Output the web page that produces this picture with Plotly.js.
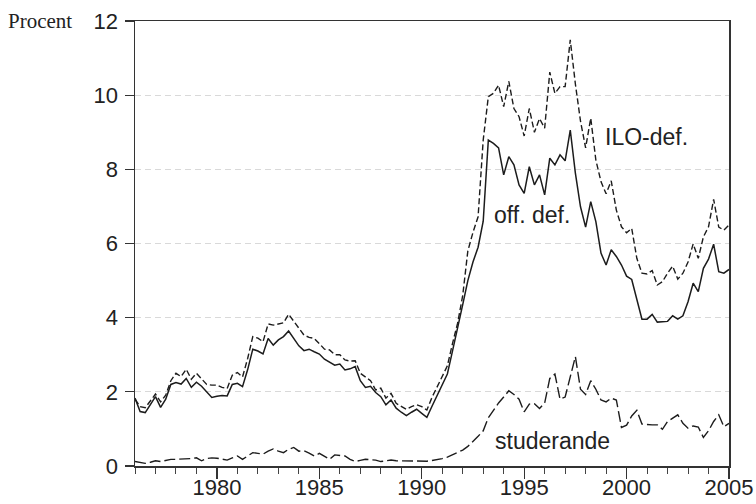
<!DOCTYPE html>
<html>
<head>
<meta charset="utf-8">
<script src="https://cdn.plot.ly/plotly-3.0.1.min.js"></script>
<style>html,body{margin:0;padding:0;background:#fff;}#chart{width:756px;height:504px;}</style>
</head>
<body>
<div id="chart"></div>
<script>
// Quarterly series, 1976Q1 .. 2005Q1
var startYear = 1976;
var offDef = [
  1.83, 1.47, 1.44, 1.65,
  1.87, 1.58, 1.80, 2.20,
  2.25, 2.21, 2.36, 2.12,
  2.26, 2.15, 2.00, 1.85,
  1.88, 1.90, 1.89, 2.20,
  2.23, 2.14, 2.60, 3.15,
  3.10, 3.02, 3.44, 3.26,
  3.40, 3.49, 3.64, 3.45,
  3.24, 3.11, 3.15, 3.08,
  3.02, 2.88, 2.80, 2.72,
  2.75, 2.59, 2.62, 2.68,
  2.30, 2.12, 2.15, 1.98,
  1.87, 1.65, 1.78, 1.56,
  1.45, 1.36, 1.45, 1.53,
  1.42, 1.31, 1.61, 1.90,
  2.19, 2.48, 3.10, 3.70,
  4.35, 5.00, 5.50, 5.90,
  6.60, 8.79, 8.70, 8.58,
  7.85, 8.34, 8.12, 7.58,
  7.35, 8.07, 7.58, 7.85,
  7.31, 8.30, 8.12, 8.39,
  8.23, 9.06, 7.90, 6.99,
  6.44, 7.13, 6.59, 5.74,
  5.42, 5.83, 5.65, 5.42,
  5.12, 5.03, 4.48, 3.96,
  3.96, 4.09, 3.88, 3.88,
  3.90, 4.05, 3.96, 4.05,
  4.43, 4.93, 4.70, 5.33,
  5.58, 5.98, 5.24, 5.20,
  5.30
];
var iloDef = [
  1.80, 1.60, 1.57, 1.75,
  1.94, 1.73, 1.91, 2.30,
  2.50, 2.41, 2.61, 2.34,
  2.50, 2.35, 2.20, 2.18,
  2.18, 2.12, 2.09, 2.45,
  2.52, 2.40, 2.90, 3.49,
  3.45, 3.35, 3.83, 3.80,
  3.83, 3.86, 4.09, 3.90,
  3.71, 3.53, 3.47, 3.44,
  3.30, 3.15, 3.13, 3.00,
  3.00, 2.86, 2.83, 2.84,
  2.50, 2.40, 2.30, 2.05,
  2.10, 1.83, 1.96, 1.69,
  1.60, 1.53, 1.60, 1.65,
  1.60, 1.51, 1.85, 2.14,
  2.45, 2.70, 3.30, 3.85,
  4.60, 5.80, 6.30, 6.72,
  8.79, 9.96, 10.05, 10.27,
  9.69, 10.37, 9.64, 9.42,
  8.90, 9.64, 9.00, 9.37,
  9.11, 10.62, 10.05, 10.23,
  10.23, 11.49, 10.30, 9.30,
  8.58, 9.38, 8.25, 7.67,
  7.34, 7.69, 6.90, 6.45,
  6.29, 6.41, 5.60, 5.20,
  5.18, 5.27, 4.88, 4.97,
  5.20, 5.39, 5.04, 5.20,
  5.50, 5.99, 5.60, 6.18,
  6.45, 7.19, 6.44, 6.36,
  6.50
];
var studerande = [
  0.12, 0.10, 0.07, 0.10,
  0.14, 0.12, 0.15, 0.18,
  0.18, 0.18, 0.19, 0.20,
  0.22, 0.14, 0.20, 0.22,
  0.21, 0.19, 0.16, 0.22,
  0.27, 0.18, 0.28, 0.36,
  0.34, 0.32, 0.40, 0.46,
  0.40, 0.36, 0.45, 0.50,
  0.40, 0.41, 0.35, 0.27,
  0.34, 0.25, 0.18, 0.30,
  0.28, 0.27, 0.18, 0.12,
  0.15, 0.18, 0.17, 0.16,
  0.12, 0.15, 0.16, 0.14,
  0.14, 0.12, 0.13, 0.14,
  0.12, 0.13, 0.15, 0.17,
  0.20, 0.24, 0.30, 0.36,
  0.43, 0.53, 0.66, 0.80,
  0.95, 1.30, 1.50, 1.70,
  1.86, 2.03, 1.93, 1.80,
  1.46, 1.67, 1.68, 1.55,
  1.70, 2.36, 2.48, 1.80,
  1.86, 2.40, 2.95, 2.07,
  1.93, 2.30, 2.07, 1.78,
  1.73, 1.83, 1.78, 1.04,
  1.10, 1.35, 1.50, 1.13,
  1.11, 1.11, 1.11, 0.99,
  1.20, 1.30, 1.38, 1.15,
  1.02, 1.08, 1.05, 0.77,
  0.95, 1.20, 1.38, 1.06,
  1.15
];
var seriesNames = ["off. def.", "ILO-def.", "studerande"];
var yTicks = [0, 2, 4, 6, 8, 10, 12];
var xTicks = [1980, 1985, 1990, 1995, 2000, 2005];

var t = offDef.map(function (_, i) { return startYear + i / 4; });
var lineColor = "#1c1c1c";

var traces = [
  {x: t, y: offDef, name: seriesNames[0], mode: "lines", line: {color: lineColor, width: 1.5}},
  {x: t, y: iloDef, name: seriesNames[1], mode: "lines", line: {color: lineColor, width: 1.4, dash: "6px,3px"}},
  {x: t, y: studerande, name: seriesNames[2], mode: "lines", line: {color: lineColor, width: 1.4, dash: "11px,4px"}}
];

var font = "Liberation Sans, Arial, sans-serif";
var layout = {
  width: 756, height: 504,
  margin: {l: 135, r: 27, t: 21, b: 38, pad: 0},
  paper_bgcolor: "#fff", plot_bgcolor: "#fff",
  showlegend: false,
  font: {family: font, size: 22, color: "#222"},
  xaxis: {
    range: [1976, 2005], tickmode: "array", tickvals: xTicks, ticktext: xTicks.map(String),
    ticks: "outside", ticklen: 11, tickwidth: 1.3, tickcolor: "#333",
    minor: {tickmode: "linear", tick0: 1976, dtick: 1, ticks: "outside", ticklen: 6, tickwidth: 1, tickcolor: "#444"},
    showline: true, linecolor: "#333", linewidth: 1.5, mirror: true,
    showgrid: false, zeroline: false, ticklabelstandoff: -10,
    tickfont: {family: font, size: 22, color: "#222"}
  },
  yaxis: {
    range: [0, 12], tickmode: "array", tickvals: yTicks, ticktext: yTicks.map(String),
    ticks: "outside", ticklen: 9, tickwidth: 1.3, tickcolor: "#333",
    showline: true, linecolor: "#333", linewidth: 1.5, mirror: true,
    showgrid: true, gridcolor: "#d9d9d9", griddash: "6px,4px", gridwidth: 1,
    zeroline: false, ticklabelstandoff: 2,
    tickfont: {family: font, size: 22, color: "#222"}
  },
  annotations: [
    {xref: "paper", yref: "paper", x: -0.218, y: 1.0, xanchor: "left", yanchor: "middle",
     text: "Procent", showarrow: false, font: {family: "Liberation Serif, Times New Roman, serif", size: 21, color: "#222"}},
    {x: 1998.85, y: 8.87, xanchor: "left", yanchor: "middle", text: seriesNames[1], showarrow: false,
     font: {family: font, size: 23, color: "#222"}},
    {x: 1993.45, y: 6.77, xanchor: "left", yanchor: "middle", text: seriesNames[0], showarrow: false,
     font: {family: font, size: 23, color: "#222"}},
    {x: 1993.5, y: 0.67, xanchor: "left", yanchor: "middle", text: seriesNames[2], showarrow: false,
     font: {family: font, size: 23, color: "#222"}}
  ]
};

Plotly.newPlot("chart", traces, layout, {displayModeBar: false, staticPlot: true});
</script>
</body>
</html>
